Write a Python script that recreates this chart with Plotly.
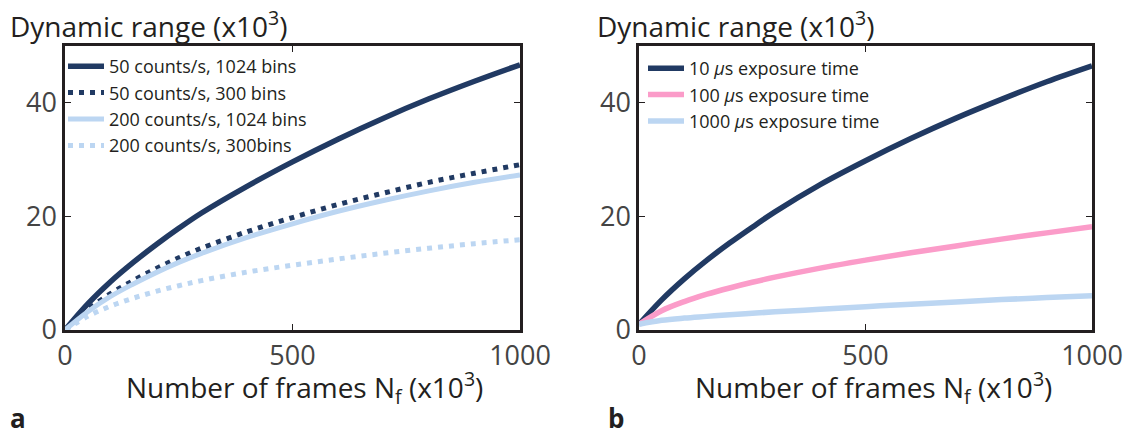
import plotly.graph_objects as go

# ---- data (x in 10^3 frames, y in 10^3 dynamic range) ----
frames = [0, 50, 100, 150, 200, 250, 300, 400, 500, 600, 700, 800, 900, 1000]

a_50_1024 = [0, 4.6, 8.5, 11.9, 15.0, 17.9, 20.6, 25.3, 29.6, 33.6, 37.3, 40.7, 43.8, 46.7]
a_50_300 = [0, 3.6, 6.4, 8.7, 10.8, 12.7, 14.4, 17.3, 19.8, 22.1, 24.1, 26.0, 27.6, 29.1]
a_200_1024 = [0, 3.2, 5.9, 8.1, 10.1, 11.9, 13.5, 16.3, 18.7, 20.9, 22.8, 24.5, 26.0, 27.3]
a_200_300 = [0, 2.4, 4.2, 5.6, 6.8, 7.8, 8.7, 10.2, 11.4, 12.5, 13.5, 14.4, 15.2, 15.9]

b_10us = [1.0, 5.3, 9.0, 12.3, 15.3, 18.1, 20.8, 25.6, 29.8, 33.7, 37.3, 40.6, 43.7, 46.5]
b_100us = [1.0, 3.4, 5.0, 6.3, 7.4, 8.4, 9.3, 10.9, 12.3, 13.6, 14.8, 16.0, 17.1, 18.2]
b_1000us = [1.0, 1.7, 2.1, 2.4, 2.7, 2.95, 3.2, 3.65, 4.1, 4.55, 4.95, 5.35, 5.7, 6.05]

labels_a = ["50 counts/s, 1024 bins", "50 counts/s, 300 bins",
            "200 counts/s, 1024 bins", "200 counts/s, 300bins"]
labels_b = ["10 <i>\u03bc</i>s exposure time", "100 <i>\u03bc</i>s exposure time",
            "1000 <i>\u03bc</i>s exposure time"]
x_ticks = [0, 500, 1000]
y_ticks = [0, 20, 40]

DARK = "#213a63"
LIGHT = "#bcd6f2"
PINK = "#fb9cc9"
TXT = "#231f20"
TICKTXT = "#444444"
FONT = "Open Sans, Noto Sans, sans-serif"
DOT = "5px,6px"

fig = go.Figure()

series_a = [(a_50_1024, DARK, "solid", 5.5), (a_50_300, DARK, DOT, 5),
            (a_200_1024, LIGHT, "solid", 5), (a_200_300, LIGHT, DOT, 5)]
for i, (vals, col, dash, wd) in enumerate(series_a):
    fig.add_trace(go.Scatter(x=frames, y=vals, mode="lines", name=labels_a[i],
                             line=dict(color=col, width=wd, dash=dash, shape="spline"),
                             xaxis="x", yaxis="y", legend="legend"))

series_b = [(b_10us, DARK), (b_100us, PINK), (b_1000us, LIGHT)]
for i, (vals, col) in enumerate(series_b):
    fig.add_trace(go.Scatter(x=frames, y=vals, mode="lines", name=labels_b[i],
                             line=dict(color=col, width=5.5, shape="spline"),
                             xaxis="x2", yaxis="y2", legend="legend2"))

W, H = 1148, 435
axis_common = dict(showline=True, mirror="ticks", linecolor=TXT, linewidth=2.5,
                   ticks="inside", ticklen=6, tickwidth=1, tickcolor=TXT,
                   showgrid=False, zeroline=False, automargin=False,
                   tickfont=dict(family=FONT, size=27, color=TICKTXT))

ydom = [1 - 330 / H, 1 - 46 / H]
legend_common = dict(xanchor="left", yanchor="top", bgcolor="rgba(0,0,0,0)",
                     font=dict(family=FONT, size=18, color=TXT), tracegroupgap=0,
                     itemwidth=36, xref="paper", yref="paper")
fig.update_layout(
    width=W, height=H, margin=dict(l=0, r=0, t=0, b=0, autoexpand=False),
    paper_bgcolor="white", plot_bgcolor="white",
    font=dict(family=FONT, color=TXT),
    xaxis=dict(domain=[65 / W, 520 / W], range=[0, 1000], tickvals=x_ticks, anchor="y",
               **axis_common),
    yaxis=dict(domain=ydom, range=[0, 50], tickvals=y_ticks, anchor="x", **axis_common),
    xaxis2=dict(domain=[639 / W, 1092 / W], range=[0, 1000], tickvals=x_ticks, anchor="y2",
                **axis_common),
    yaxis2=dict(domain=ydom, range=[0, 50], tickvals=y_ticks, anchor="x2", **axis_common),
    legend=dict(x=63 / W, y=1 - 48 / H, **legend_common),
    legend2=dict(x=643 / W, y=1 - 50 / H, **legend_common),
    showlegend=True,
)

title_font = dict(family=FONT, size=28, color=TXT)
axis_title_font = dict(family=FONT, size=28, color=TXT)
annots = [
    dict(text="Dynamic range (x10<sup>3</sup>)", x=8 / W, y=1 - 24 / H, xanchor="left",
         yanchor="middle", font=title_font),
    dict(text="Dynamic range (x10<sup>3</sup>)", x=595 / W, y=1 - 24 / H, xanchor="left",
         yanchor="middle", font=title_font),
    dict(text="Number of frames N<sub>f</sub> (x10<sup>3</sup>)", x=304 / W, y=1 - 387 / H,
         xanchor="center", yanchor="middle", font=axis_title_font),
    dict(text="Number of frames N<sub>f</sub> (x10<sup>3</sup>)", x=873 / W, y=1 - 387 / H,
         xanchor="center", yanchor="middle", font=axis_title_font),
    dict(text="<b>a</b>", x=8 / W, y=1 - 418 / H, xanchor="left", yanchor="middle",
         font=dict(family=FONT, size=26, color=TXT)),
    dict(text="<b>b</b>", x=606 / W, y=1 - 418 / H, xanchor="left", yanchor="middle",
         font=dict(family=FONT, size=26, color=TXT)),
]
for a in annots:
    a.update(xref="paper", yref="paper", showarrow=False)
fig.update_layout(annotations=annots)

fig.write_html("out.html", config={"displayModeBar": False},
               post_script="document.body.style.margin='0';document.body.style.overflow='hidden';")
